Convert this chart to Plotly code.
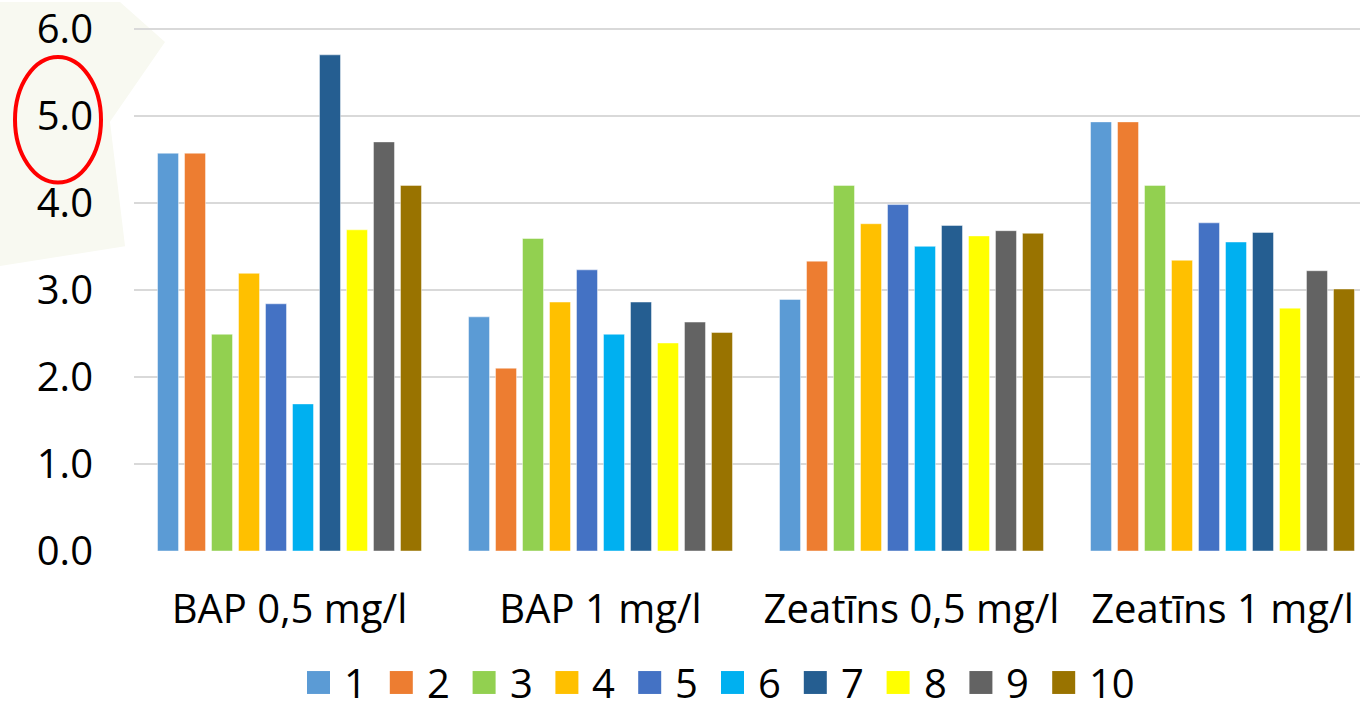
import plotly.graph_objects as go

categories = ["BAP 0,5 mg/l", "BAP 1 mg/l", "Zeatīns 0,5 mg/l", "Zeatīns 1 mg/l"]
series_names = ["1", "2", "3", "4", "5", "6", "7", "8", "9", "10"]

s1 = [4.57, 2.69, 2.89, 4.93]
s2 = [4.57, 2.10, 3.33, 4.93]
s3 = [2.49, 3.59, 4.20, 4.20]
s4 = [3.19, 2.86, 3.76, 3.34]
s5 = [2.84, 3.23, 3.98, 3.77]
s6 = [1.69, 2.49, 3.50, 3.55]
s7 = [5.70, 2.86, 3.74, 3.66]
s8 = [3.69, 2.39, 3.62, 2.79]
s9 = [4.70, 2.63, 3.68, 3.22]
s10 = [4.20, 2.51, 3.65, 3.01]
series_values = [s1, s2, s3, s4, s5, s6, s7, s8, s9, s10]

colors = ["#5B9BD5", "#ED7D31", "#92D050", "#FFC000", "#4472C4",
          "#00B0F0", "#255E91", "#FFFF00", "#636363", "#997300"]

y_ticks = [0, 1, 2, 3, 4, 5, 6]
y_tick_text = ["0.0", "1.0", "2.0", "3.0", "4.0", "5.0", "6.0"]

FONT = "Open Sans, Segoe UI, Tahoma, sans-serif"

Y_MAX = 6.02
W, H = 1360, 703
ML, MR, MB = 134, 0, 152
UNIT = 87.32
MT = round(H - MB - UNIT * Y_MAX)
PW = W - ML - MR
PH = H - MT - MB


def px_to_paper_x(px):
    return (px - ML) / PW


def px_to_paper_y(py):
    return (H - MB - py) / PH


fig = go.Figure()
for name, vals, col in zip(series_names, series_values, colors):
    fig.add_trace(go.Bar(
        x=categories, y=vals, name=name,
        marker=dict(color=col, line=dict(color="rgba(255,255,255,0.45)", width=1)),
        showlegend=False,
    ))

shapes = []
# faint watermark in the top-left background
wm = [(0, 0), (120, 0), (165, 40), (110, 120), (125, 245), (0, 265)]
path = "M " + " L ".join(f"{px_to_paper_x(x):.4f},{px_to_paper_y(y):.4f}" for x, y in wm) + " Z"
shapes.append(dict(type="path", xref="paper", yref="paper", path=path,
                   fillcolor="#F8F9F1", line=dict(width=0), layer="below"))

# red ellipse around the 5.0 tick label
shapes.append(dict(type="circle", xref="paper", yref="paper",
                   x0=px_to_paper_x(15), x1=px_to_paper_x(101),
                   y0=px_to_paper_y(181), y1=px_to_paper_y(55),
                   line=dict(color="#FF0000", width=4)))

annotations = []
# legend drawn as squares + labels
leg_x0 = 307
leg_pitch = 82.8
sq = 23
leg_cy = 683
for i, (name, col) in enumerate(zip(series_names, colors)):
    x0 = leg_x0 + leg_pitch * i
    shapes.append(dict(type="rect", xref="paper", yref="paper",
                       x0=px_to_paper_x(x0), x1=px_to_paper_x(x0 + sq),
                       y0=px_to_paper_y(leg_cy + sq / 2), y1=px_to_paper_y(leg_cy - sq / 2),
                       fillcolor=col, line=dict(width=0)))
    annotations.append(dict(xref="paper", yref="paper",
                            x=px_to_paper_x(x0 + sq + 13), y=px_to_paper_y(leg_cy),
                            xanchor="left", yanchor="middle", showarrow=False,
                            height=36, valign="middle", borderpad=0,
                            text=name, font=dict(family=FONT, size=40, color="#000000")))

fig.update_layout(
    width=W, height=H,
    margin=dict(l=ML, r=MR, t=MT, b=MB, pad=0),
    paper_bgcolor="white", plot_bgcolor="rgba(0,0,0,0)",
    barmode="group", bargap=0.132, bargroupgap=0.222,
    font=dict(family=FONT, size=40, color="#000000"),
    shapes=shapes, annotations=annotations,
    xaxis=dict(range=[-0.5, -0.5 + PW / 311.0], showgrid=False, showline=False,
               zeroline=False, ticks="", tickfont=dict(size=40),
               ticklabelstandoff=31, ticklabeloverflow="allow"),
    yaxis=dict(range=[0, Y_MAX], tickvals=y_ticks, ticktext=y_tick_text,
               showgrid=True, gridcolor="#D9D9D9", gridwidth=1.5,
               zeroline=False, showline=False, ticks="",
               tickfont=dict(size=40), ticklabelstandoff=40,
               ticklabeloverflow="allow"),
)

fig.write_html("out.html")
